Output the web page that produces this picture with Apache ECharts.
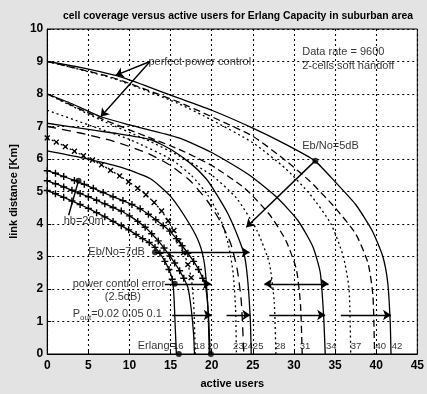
<!DOCTYPE html>
<html>
<head>
<meta charset="utf-8">
<title>cell coverage versus active users</title>
<script src="https://cdn.jsdelivr.net/npm/echarts@6/dist/echarts.min.js"></script>
<style>
    html, body { margin: 0; padding: 0; background: #e3e3e3; }
    #chart { width: 427px; height: 394px; }
</style>
</head>
<body>
<div id="chart"></div>
<script>
// curves, [active users, link distance km]
// start at 9 km (Eb/No=5dB, perfect power control) -> Erlang 42 / 40 / 37
const curve9Solid = [[0,9],[4,8.82],[8.3,8.57],[12,8.25],[16,7.87],[20,7.5],[25,6.95],[29,6.45],[32.5,5.95],[35,5.3],[37.5,4.6],[39.5,3.8],[40.8,3.0],[41.4,2.2],[41.7,1],[41.8,0]];
const curve9Dash = [[0,9],[8,8.5],[16,7.75],[20,7.3],[25,6.7],[29,5.95],[32,5.3],[35,4.5],[37.5,3.7],[39,2.8],[39.6,1.8],[39.8,0]];
const curve9Dot = [[0,9],[8,8.48],[16,7.7],[20,7.2],[25,6.5],[29,5.7],[32,4.9],[34.5,4.0],[36,3.0],[36.7,2],[36.9,0]];
// start at 8 km -> Erlang 34 / 31 / 28
const curve8Solid = [[0,8],[3,7.7],[6.5,7.3],[10,7.05],[16,6.65],[20,6.2],[24.6,5.5],[28,4.8],[30.5,4.1],[32.3,3.3],[33.2,2.5],[33.6,1.2],[33.8,0]];
const curve8Dash = [[0,8],[6.5,7.25],[12,6.7],[16,6.3],[20,5.8],[24,5.1],[27,4.3],[29,3.5],[30.3,2.6],[30.8,1.5],[31,0]];
const curve8Dot = [[0,8],[6.5,7.2],[12,6.6],[16,6.1],[20,5.5],[23,4.8],[25.5,3.8],[27,2.8],[27.6,1.6],[27.8,0]];
// start near 7 km (Eb/No=7dB) -> Erlang 25 / 24 / 23
const curve7Solid = [[0,7.1],[4,6.95],[8,6.8],[12.5,6.6],[15,6.3],[17.5,5.85],[19.3,5.4],[20.5,4.95],[22,4.3],[23.2,3.6],[24,3.0],[24.4,2.2],[24.7,1],[24.8,0]];
const curve7Dash = [[0,7.0],[4,6.8],[8,6.55],[12,6.2],[15,5.8],[17.5,5.3],[19.5,4.7],[21,4.1],[22.3,3.4],[23.1,2.6],[23.6,1.6],[23.9,0]];
const curve7Dot = [[0,7.5],[5,7.05],[10,6.6],[15,6.0],[17.5,5.5],[19.5,4.9],[21,4.2],[22,3.4],[22.6,2.5],[22.9,1.4],[23,0]];
// x marked curve and plain curve from 6.25 km
const crossCurve = [[0,6.65],[1.1,6.52],[2.2,6.38],[3.3,6.24],[4.4,6.1],[5.5,5.97],[6.6,5.82],[7.7,5.65],[8.8,5.48],[9.9,5.3],[11,5.1],[12,4.9],[13,4.66],[13.9,4.4],[14.7,4.1],[15.4,3.8],[16,3.48],[16.6,3.12],[17.1,2.75],[17.5,2.35],[17.8,1.6],[18,0]];
const curve6Solid = [[0,6.25],[4,6.05],[8.9,5.75],[12.5,5.4],[15,4.85],[17.3,4.0],[18.5,3.4],[19.1,2.8],[19.4,2],[19.6,1],[19.7,0]];
// + marked curves, hb=20m -> Erlang 20 / 18 / 16
const plusCurve1 = [[0,5.64],[1,5.56],[2,5.46],[3.3,5.34],[4.5,5.22],[5.6,5.1],[6.8,4.97],[8,4.84],[9.2,4.72],[10.3,4.6],[11.3,4.47],[12.3,4.3],[13.2,4.13],[14.1,3.95],[14.9,3.78],[15.7,3.55],[16.4,3.33],[17.1,3.1],[17.8,2.85],[18.4,2.6],[18.9,2.33],[19.3,2.0],[19.6,1.2],[19.8,0]];
const plusCurve2 = [[0,5.33],[1,5.24],[2,5.14],[3,5.04],[4,4.94],[5,4.84],[6,4.73],[7,4.62],[8,4.51],[9,4.4],[10,4.25],[11,4.08],[11.9,3.9],[12.7,3.7],[13.5,3.48],[14.2,3.26],[14.9,3.02],[15.5,2.8],[16.1,2.56],[16.6,2.33],[17.1,2.05],[17.5,1.4],[17.8,0.6],[17.9,0]];
const plusCurve3 = [[0,5.03],[1,4.93],[2,4.82],[3,4.71],[4,4.6],[5,4.48],[6,4.35],[7,4.22],[8,4.08],[9,3.95],[9.9,3.82],[10.8,3.68],[11.6,3.55],[12.4,3.43],[13.1,3.28],[13.7,3.1],[14.3,2.85],[14.8,2.6],[15.2,2.3],[15.4,1.8],[15.6,0.6],[15.7,0]];

// annotation arrows [[x1,y1],[x2,y2]]
const arrowsToEnd = [
    [[12.5,9.0],[8.3,8.57]],
    [[12.5,9.0],[6.5,7.3]],
    [[32.6,5.95],[24.2,3.9]],
    [[13.1,3.13],[24.6,3.13]],
    [[14.3,2.16],[19.9,2.16]],
    [[15.2,1.2],[20.0,1.2]],
    [[21.8,1.2],[24.7,1.2]],
    [[27.0,1.2],[33.8,1.2]],
    [[35.7,1.2],[41.8,1.2]]
];
const arrowsBoth = [[[26.4,2.16],[34.2,2.16]]];
const plainLines = [[[2.6,4.27],[3.8,5.33]]];
const dots = [[3.8,5.33],[32.6,5.95],[13.1,3.13],[15.5,2.16],[16,0],[19.9,0]];

// text notes: [text, x, y] (left edge, middle)
const notes = [
    ['perfect power control', 12.3, 9.0],
    ['Data rate = 9600', 31.0, 9.3],
    ['2-cells soft handoff', 31.0, 8.87],
    ['Eb/No=5dB', 31.0, 6.4],
    ['hb=20m', 2.0, 4.1],
    ['Eb/No=7dB', 5.0, 3.14],
    ['power control error', 3.1, 2.16],
    ['(2.5dB)', 7.0, 1.77],
    ['{a|P}{s|out}{a|=0.02 0.05 0.1}', 3.1, 1.22],
    ['Erlang=', 11.0, 0.25]
];
const erlangValues = ['16','18','20','23','24','25','28','31','34','37','40','42'];
const erlangLabelX = [15.3,17.9,19.5,22.6,23.75,25.0,27.7,30.7,33.9,36.9,39.9,41.9];
const erlangLabelY = 0.25;

const FONT = '"Liberation Sans Narrow", "Liberation Sans", Arial, sans-serif';
const plusPath = 'path://M4,0H6V10H4ZM0,4H10V6H0Z';

// 曲线系列
function curve(pts, dash, marker, rotate) {
    return {
        type: 'line',
        data: pts.map(p => (marker && p[1] < 2.25) ? { value: p, symbol: 'none' } : p),
        smooth: 0.2,
        showSymbol: !!marker,
        symbol: marker || 'none',
        symbolSize: 7,
        symbolRotate: rotate || 0,
        lineStyle: { color: '#000', width: 1.3, type: dash },
        itemStyle: { color: '#000' },
        silent: true,
        animation: false,
        z: 3
    };
}

const chart = echarts.init(document.getElementById('chart'));

const series = [
    curve(curve9Solid, 'solid'),
    curve(curve9Dash, [7, 4]),
    curve(curve9Dot, [2, 3]),
    curve(curve8Solid, 'solid'),
    curve(curve8Dash, [7, 4]),
    curve(curve8Dot, [2, 3]),
    curve(curve7Solid, 'solid'),
    curve(curve7Dash, [9, 6]),
    curve(curve7Dot, [2, 3]),
    curve(crossCurve, [2, 3], plusPath, 45),
    curve(curve6Solid, 'solid'),
    curve(plusCurve1, 'solid', plusPath),
    curve(plusCurve2, 'solid', plusPath),
    curve(plusCurve3, 'solid', plusPath),
    {
        type: 'lines', coordinateSystem: 'cartesian2d', silent: true, animation: false,
        symbol: ['none', 'arrow'], symbolSize: 8,
        lineStyle: { color: '#000', width: 1.4, opacity: 1 },
        data: arrowsToEnd.map(c => ({ coords: c })), z: 4
    },
    {
        type: 'lines', coordinateSystem: 'cartesian2d', silent: true, animation: false,
        symbol: ['arrow', 'arrow'], symbolSize: 8,
        lineStyle: { color: '#000', width: 1.4, opacity: 1 },
        data: arrowsBoth.map(c => ({ coords: c })), z: 4
    },
    {
        type: 'lines', coordinateSystem: 'cartesian2d', silent: true, animation: false,
        symbol: 'none',
        lineStyle: { color: '#000', width: 1.4, opacity: 1 },
        data: plainLines.map(c => ({ coords: c })), z: 4
    },
    {
        type: 'scatter', silent: true, animation: false,
        symbol: 'circle', symbolSize: 6,
        itemStyle: { color: '#000' },
        data: dots, z: 5
    },
    {
        // 注释文字
        type: 'scatter', silent: true, animation: false,
        symbolSize: 0,
        data: notes.map(n => ({ value: [n[1], n[2]], label: { formatter: n[0] } }))
            .concat(erlangValues.map((v, i) => ({
                value: [erlangLabelX[i], erlangLabelY],
                label: { formatter: v, fontSize: 9.5 }
            }))),
        label: {
            show: true, position: 'right', distance: 0,
            color: '#000', fontFamily: FONT, fontSize: 11,
            rich: {
                a: { fontFamily: FONT, fontSize: 11, color: '#000' },
                s: { fontFamily: FONT, fontSize: 8, color: '#000', padding: [6, 0, 0, 0] }
            }
        },
        z: 6
    }
];

chart.setOption({
    backgroundColor: '#e3e3e3',
    animation: false,
    title: {
        text: 'cell coverage versus active users for Erlang Capacity in suburban area',
        left: 233, top: 6, textAlign: 'center',
        textStyle: { fontFamily: FONT, fontSize: 10.4, fontWeight: 'bold', color: '#000' }
    },
    grid: {
        left: 45, right: 5, top: 29, bottom: 36,
        show: true, backgroundColor: '#fff', borderColor: '#000', borderWidth: 1
    },
    xAxis: {
        type: 'value', min: 0, max: 45, interval: 5,
        name: 'active users', nameLocation: 'middle', nameGap: 24,
        nameTextStyle: { fontFamily: FONT, fontSize: 11, fontWeight: 'bold', color: '#000' },
        axisLine: { lineStyle: { color: '#000', width: 1 } },
        axisTick: { inside: true, length: 4, lineStyle: { color: '#000' } },
        axisLabel: { fontFamily: FONT, fontSize: 12, fontWeight: 'bold', color: '#000', margin: 6 },
        splitLine: { lineStyle: { color: '#000', width: 1.1, type: [2, 3] } }
    },
    yAxis: {
        type: 'value', min: 0, max: 10, interval: 1,
        name: 'link distance [Km]', nameLocation: 'middle', nameGap: 17,
        nameTextStyle: { fontFamily: FONT, fontSize: 11, fontWeight: 'bold', color: '#000' },
        axisLine: { show: true, lineStyle: { color: '#000', width: 1 } },
        axisTick: { show: true, inside: true, length: 4, lineStyle: { color: '#000' } },
        axisLabel: { fontFamily: FONT, fontSize: 12, fontWeight: 'bold', color: '#000', margin: 4 },
        splitLine: { lineStyle: { color: '#000', width: 1.1, type: [2, 3] } }
    },
    series: series
});
</script>
</body>
</html>
